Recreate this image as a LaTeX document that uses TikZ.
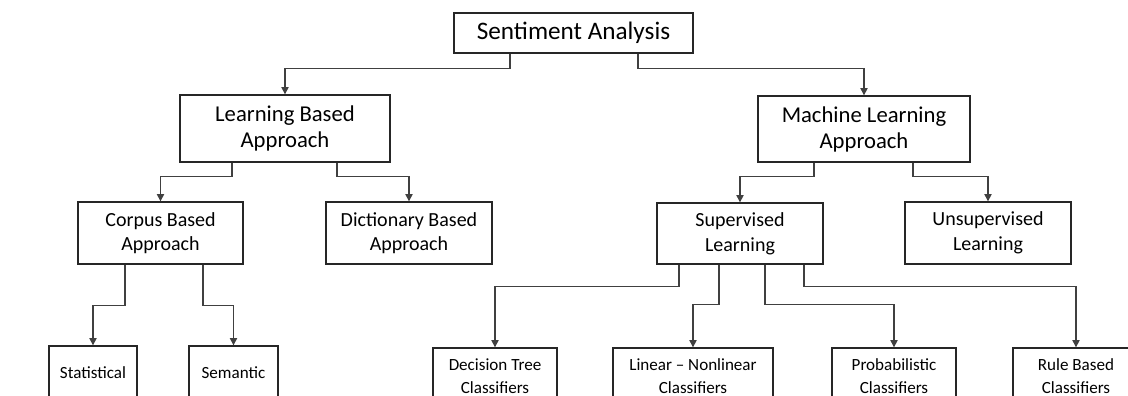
\documentclass[tikz,border=0pt]{standalone}
\usepackage{fontspec}
\setmainfont{Carlito}
\usetikzlibrary{arrows.meta}

\tikzset{
  box/.style 2 args={draw=black!85, line width=1pt, fill=white, inner sep=0pt,
    align=center, minimum width=#1*0.75pt, minimum height=#2*0.75pt},
  lvlA/.style={font=\fontsize{18.9}{22}\selectfont},
  lvlB/.style={font=\fontsize{17}{19.5}\selectfont},
  lvlC/.style={font=\fontsize{15}{18.5}\selectfont},
  lvlD/.style={font=\fontsize{12.8}{17}\selectfont},
  conn/.style={draw=black!75, line width=0.9pt,
    -{Triangle[width=5.5pt,length=5.5pt]}},
}

\begin{document}
\begin{tikzpicture}[x=0.75pt, y=-0.75pt]
  \useasboundingbox (0,0) rectangle (1128,396);
  \clip (0,0) rectangle (1128,396);

  % root
  \node[box={239}{40}, lvlA] (sa) at (573.5,33) {Sentiment Analysis};

  % second level
  \node[box={210}{67}, lvlB] (lba) at (285,128.5) {Learning Based\\Approach};
  \node[box={212}{66}, lvlB] (mla) at (864,129) {Machine Learning\\Approach};

  % third level
  \node[box={165}{62}, lvlC] (cba) at (160.5,233) {Corpus Based\\Approach};
  \node[box={166}{62}, lvlC] (dba) at (409,233) {Dictionary Based\\Approach};
  \node[box={166}{61}, lvlC] (sl)  at (740,233.5) {Supervised\\Learning};
  \node[box={166}{62}, lvlC] (ul)  at (988,233) {Unsupervised\\Learning};

  % leaves (their lower edges run past the bottom of the page)
  \node[box={88}{54}, lvlD]  (stat) at (93,373) {Statistical};
  \node[box={89}{54}, lvlD]  (sem)  at (233.5,373) {Semantic};
  \node[box={124}{56}, lvlD] (dt)   at (495,376) {Decision Tree\\Classifiers};
  \node[box={160}{56}, lvlD] (lnc)  at (693,376) {Linear – Nonlinear\\Classifiers};
  \node[box={124}{56}, lvlD] (pc)   at (894,376) {Probabilistic\\Classifiers};
  \node[box={126}{56}, lvlD] (rbc)  at (1076,376) {Rule Based\\Classifiers};

  % connectors
  \draw[conn] ([xshift=-47.6pt]sa.south) -- ++(0,15) -| (lba.north);
  \draw[conn] ([xshift=48.4pt]sa.south)  -- ++(0,15) -| (mla.north);

  \draw[conn] ([xshift=-39.75pt]lba.south) -- ++(0,14) -| (cba.north);
  \draw[conn] ([xshift=39pt]lba.south)     -- ++(0,14) -| (dba.north);

  \draw[conn] ([xshift=-37.5pt]mla.south) -- ++(0,14) -| (sl.north);
  \draw[conn] ([xshift=36.75pt]mla.south) -- ++(0,14) -| (ul.north);

  \draw[conn] ([xshift=-26.6pt]cba.south) -- ++(0,41) -| (stat.north);
  \draw[conn] ([xshift=31.9pt]cba.south)  -- ++(0,41) -| (sem.north);

  \draw[conn] ([xshift=-45.75pt]sl.south) -- ++(0,22) -| (dt.north);
  \draw[conn] ([xshift=-15.75pt]sl.south) -- ++(0,40) -| (lnc.north);
  \draw[conn] ([xshift=18.75pt]sl.south)  -- ++(0,40) -| (pc.north);
  \draw[conn] ([xshift=48pt]sl.south)     -- ++(0,22) -| (rbc.north);
\end{tikzpicture}
\end{document}
